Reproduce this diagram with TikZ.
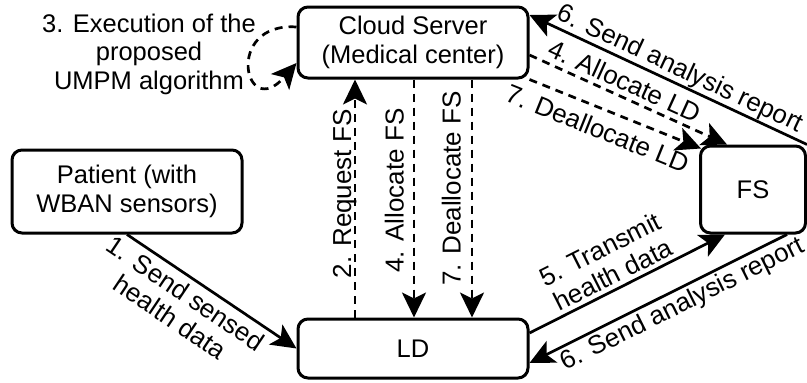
\documentclass[tikz,border=0pt]{standalone}
\usepackage{fontspec}
\setmainfont{Liberation Sans}
\usetikzlibrary{arrows.meta,calc}
\newcommand\diagfont{\fontsize{25.5pt}{28.5pt}\selectfont}
\newcommand\edgefont{\fontsize{26pt}{28.5pt}\selectfont}

\begin{document}
\begin{tikzpicture}[x=1pt, y=-1pt,
  every node/.style={font=\diagfont},
  box/.style={draw, line width=3pt, rounded corners=10pt, align=center, inner sep=0pt},
  link/.style={line width=2.7pt, -{Stealth[length=25pt, width=24pt, inset=6pt]}},
  dlink/.style={link, dash pattern=on 8pt off 6pt},
  lbl/.style={align=center, inner sep=0pt, font=\edgefont}]

\useasboundingbox (0,0) rectangle (807,383);

% participants
\node[box, minimum width=230pt, minimum height=71pt] (cloud) at (413,42.5) {Cloud Server\\(Medical center)};
\node[box, minimum width=230pt, minimum height=83pt] (patient) at (127,191.5) {Patient (with\\WBAN sensors)};
\node[box, minimum width=230pt, minimum height=59pt] (ld) at (413,348.5) {LD};
\node[box, minimum width=105pt, minimum height=87pt] (fs) at (753,189.5) {FS};

\node[align=center, inner sep=0pt] (note) at (149,54) {3. Execution of the\\proposed\\UMPM algorithm};

% step 1
\draw[link] (patient.south) -- node[lbl, sloped, pos=0.40, anchor=north, inner sep=5pt] (t1) {1. Send sensed\\health data} (ld.west);

% steps 2, 4, 7 between LD and the cloud server
\draw[dlink] ($(ld.north)+(-58,0)$) -- node[lbl, rotate=90, pos=0.52, anchor=south, text depth=0pt, inner sep=2.5pt] (t2) {2. Request FS} ($(cloud.south)+(-58,0)$);
\draw[dlink] ($(cloud.south)+(1,0)$) -- node[lbl, rotate=90, pos=0.467, anchor=south, text depth=0pt, inner sep=9pt] (t3) {4. Allocate FS} ($(ld.north)+(1,0)$);
\draw[dlink] ($(cloud.south)+(59,0)$) -- node[lbl, rotate=90, pos=0.458, anchor=south, text depth=0pt, inner sep=10pt] (t4) {7. Deallocate FS} ($(ld.north)+(59,0)$);

% step 3: self loop on the cloud server
\draw[dlink] ($(cloud.west)+(0,-15.5)$) .. controls +(-73,-5) and +(-52,60) .. ($(cloud.west)+(0,20.5)$);

% cloud server <-> FS
\draw[link] (fs.north east) -- node[lbl, sloped, pos=0.48, anchor=south, text depth=0pt, inner sep=6pt] (t6a) {6. Send analysis report} ($(cloud.east)+(0,-27.5)$);
\draw[dlink] ($(cloud.east)+(0,12.5)$) -- node[lbl, sloped, pos=0.45, anchor=south, text depth=0pt, inner sep=5pt] (t7) {4. Allocate LD} ($(fs.north)+(-26,0)$);
\draw[dlink] (cloud.south east) -- node[lbl, sloped, pos=0.44, anchor=north, inner sep=9pt] (t8) {7. Deallocate LD} ($(fs.north west)+(2,4)$);

% LD <-> FS
\draw[link] ($(ld.east)+(0,-15.5)$) -- node[lbl, sloped, pos=0.46, anchor=south, text depth=0pt, inner sep=4pt] (t9) {5. Transmit\\health data} ($(fs.south)+(-28,0)$);
\draw[link] ($(fs.south)+(34,0)$) -- node[lbl, sloped, pos=0.433, anchor=north, inner sep=3pt] (t10) {6. Send analysis report} ($(ld.east)+(0,14.5)$);

\end{tikzpicture}
\end{document}
